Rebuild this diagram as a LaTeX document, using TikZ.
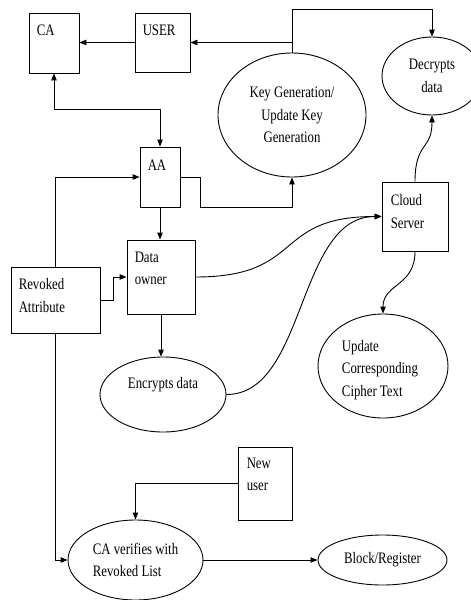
\documentclass[tikz,border=0pt]{standalone}
\usepackage{fontspec}
\setmainfont{Liberation Serif}[FakeStretch=0.8]
\usetikzlibrary{arrows.meta,shapes.geometric}
\begin{document}
\begin{tikzpicture}[x=1pt,y=-1pt,
  font=\fontsize{16}{22.5}\selectfont,
  box/.style={draw, line width=0.9pt, inner sep=0pt},
  oval/.style={draw, ellipse, line width=0.9pt, inner sep=0pt, align=center},
  txt/.style={inner sep=0pt, anchor=north west, align=left},
  arr/.style={line width=0.9pt, -{Triangle[length=7pt,width=5.5pt]}},
  darr/.style={line width=0.9pt, {Triangle[length=7pt,width=5.5pt]}-{Triangle[length=7pt,width=5.5pt]}}]
\useasboundingbox (0,0) rectangle (471,600);

% boxes
\node[box, minimum width=50pt, minimum height=60pt] (CA) at (54,43) {};
\node[txt] (CAt) at ([shift={(8,12)}]CA.north west) {CA};
\node[box, minimum width=55pt, minimum height=59pt] (USER) at (162.5,42.5) {};
\node[txt] (USERt) at ([shift={(8,12)}]USER.north west) {USER};
\node[box, minimum width=40pt, minimum height=60pt] (AA) at (160,177) {};
\node[txt] (AAt) at ([shift={(8,13)}]AA.north west) {AA};
\node[box, minimum width=68pt, minimum height=74pt] (DO) at (161,277) {};
\node[txt] (DOt) at ([shift={(8,12)}]DO.north west) {Data\\owner};
\node[box, minimum width=89pt, minimum height=66pt] (RA) at (55.5,300) {};
\node[txt] (RAt) at ([shift={(8,12)}]RA.north west) {Revoked\\Attribute};
\node[box, minimum width=66pt, minimum height=69pt] (CS) at (415,216.5) {};
\node[txt] (CSt) at ([shift={(9,13)}]CS.north west) {Cloud\\Server};
\node[box, minimum width=54pt, minimum height=73pt] (NU) at (265,483.5) {};
\node[txt] (NUt) at ([shift={(9,11)}]NU.north west) {New\\user};

% ellipses
\node[oval, minimum width=148pt, minimum height=124pt] (KG) at (292,115) {Key Generation/\\Update Key\\Generation};
\node[oval, minimum width=100pt, minimum height=78pt] (DD) at (432,76) {Decrypts\\data};
\node[oval, minimum width=126pt, minimum height=75pt] (ENC) at (163,394.5) {};
\node[inner sep=0pt] (ENCt) at ([shift={(0,-10)}]ENC.center) {Encrypts data};
\node[oval, minimum width=130pt, minimum height=104pt] (UP) at (383,366) {};
\node[inner sep=0pt, align=left] (UPt) at ([shift={(-3,4)}]UP.center) {Update\\Corresponding\\Cipher Text};
\node[oval, minimum width=135pt, minimum height=80pt, align=left] (CAV) at (135.5,560) {CA verifies with\\Revoked List};
\node[oval, minimum width=129pt, minimum height=50pt] (BR) at (382.5,560) {Block/Register};

% connectors
\draw[arr] (USER.west) -- (USER.west -| CA.east);
\draw[darr] (CA.south) -- ++(0,36) -| (AA.north);
\draw[arr] (KG.north) |- (USER.east);
\coordinate (kt) at (KG.north |- USER.east);
\draw[arr] (kt) -- ++(0,-33) -| (DD.north);
\draw[arr] (AA.east) -- ++(20,0) -- ++(0,30) -| (KG.south);
\draw[arr] (RA.north) |- (AA.west);
\draw[arr] (AA.south) -- (AA.south |- DO.north);
\draw[arr] (RA.east) -- ++(13,0) |- (DO.west);
\draw[arr] (RA.south) |- (CAV.west);
\draw[arr] (DO.south) -- (DO.south |- ENC.north);
\draw[arr] (DO.east) .. controls +(110,0) and +(-110,0) .. (CS.west);
\draw[arr] (ENC.east) .. controls +(80,0) and +(-85,0) .. (CS.west);
\draw[arr] (CS.north) .. controls +(0,-40) and +(0,35) .. (DD.south);
\draw[arr] (CS.south) .. controls +(0,35) and +(0,-30) .. (UP.north);
\draw[arr] (NU.west) -| (CAV.north);
\draw[arr] (CAV.east) -- (BR.west);
\end{tikzpicture}
\end{document}
